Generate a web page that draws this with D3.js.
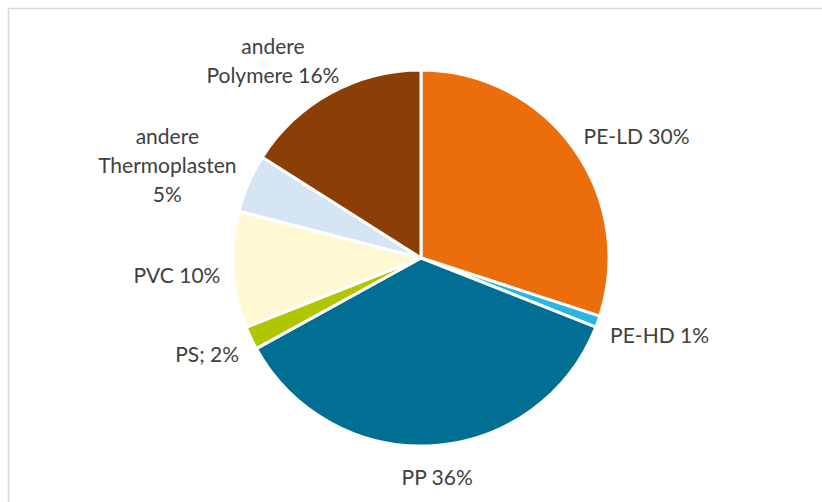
<!DOCTYPE html>
<html>
<head>
<meta charset="utf-8">
<script src="https://cdn.jsdelivr.net/npm/d3@7"></script>
<style>
  html, body { margin: 0; padding: 0; background: #fff; }
  svg { display: block; }
</style>
</head>
<body>
<script>
var categories = ['PE-LD', 'PE-HD', 'PP', 'PS', 'PVC', 'andere Thermoplasten', 'andere Polymere'];
var values = [30, 1, 36, 2, 10, 5, 16];
// label text as shown, one entry per line
var labelLines = [
  ['PE-LD 30%'],
  ['PE-HD 1%'],
  ['PP 36%'],
  ['PS; 2%'],
  ['PVC 10%'],
  ['andere', 'Thermoplasten', '5%'],
  ['andere', 'Polymere 16%']
];
var colors = ['#eb6d0c', '#29b6e2', '#006f93', '#afc600', '#fff8d2', '#d5e5f3', '#8b3e05'];

var width = 822, height = 502;
var cx = 421, cy = 258, radius = 188;
var labelRadius = 207;
var lineHeight = 29;

var svg = d3.select('body').append('svg')
    .attr('width', width)
    .attr('height', height);

// chart frame
svg.append('rect')
    .attr('x', 8.5).attr('y', 8.5)
    .attr('width', width).attr('height', height)
    .attr('fill', 'none')
    .attr('stroke', '#d9d9d9')
    .attr('stroke-width', 1.5);

var pie = d3.pie().sort(null).value(function(d){ return d; });
var arcs = pie(values);

var arc = d3.arc().innerRadius(0).outerRadius(radius);

var g = svg.append('g').attr('transform', 'translate(' + cx + ',' + cy + ')');

g.selectAll('path.slice')
    .data(arcs)
  .enter().append('path')
    .attr('class', 'slice')
    .attr('d', arc)
    .attr('fill', function(d, i){ return colors[i]; })
    .attr('stroke', '#fff')
    .attr('stroke-width', 3)
    .attr('stroke-linejoin', 'round');

// labels: best-fit style outside the pie
var clamp = function(v){ return Math.max(-1, Math.min(1, v)); };

arcs.forEach(function(d, i){
  var a = (d.startAngle + d.endAngle) / 2;
  var sx = Math.sin(a), sy = -Math.cos(a);
  var px = sx * (labelRadius - 6), py = sy * labelRadius + 5;

  var t = g.append('text')
      .attr('font-family', 'Lato, "Open Sans", sans-serif')
      .attr('font-size', '21px')
      .attr('fill', '#404040')
      .attr('text-anchor', 'middle');

  labelLines[i].forEach(function(line, j){
    t.append('tspan').attr('x', 0).attr('dy', j === 0 ? 0 : lineHeight).text(line);
  });

  var bb = t.node().getBBox();
  var w = bb.width, h = (labelLines[i].length - 1) * lineHeight + 16;
  var mx = px + clamp(sx * 1.6) * w / 2;
  var my = py + sy * h / 2;
  // baseline of first line so that the block is centred on my
  var y0 = my - h / 2 + 15;
  t.attr('transform', 'translate(' + mx + ',' + y0 + ')');
});
</script>
</body>
</html>
